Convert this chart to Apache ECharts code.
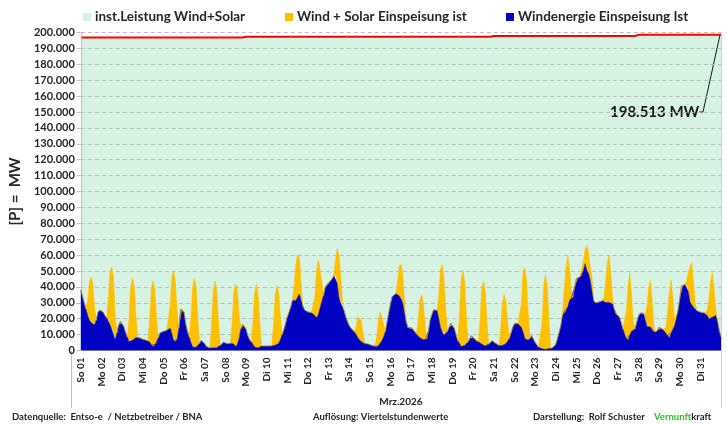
<!DOCTYPE html>
<html><head><meta charset="utf-8">
<script src="https://cdn.jsdelivr.net/npm/echarts@6.0.0/dist/echarts.min.js"></script>
<style>html,body{margin:0;padding:0;background:#fff}#c{width:727px;height:424px}</style>
</head><body><div id="c"></div>
<script>
// ---- data ----
const dayLabels = ['So 01','Mo 02','Di 03','Mi 04','Do 05','Fr 06','Sa 07','So 08','Mo 09','Di 10','Mi 11','Do 12','Fr 13','Sa 14','So 15','Mo 16','Di 17','Mi 18','Do 19','Fr 20','Sa 21','So 22','Mo 23','Di 24','Mi 25','Do 26','Fr 27','Sa 28','So 29','Mo 30','Di 31'];
const hoursOfDay = ['00','02','04','06','08','10','12','14','16','18','20','22'];
// wind feed-in, MW, every 2 hours (12 per day) + end point
const windMW = [
38000,34000,30000,26000,22000,19000,17500,17500,16000,19000,24000,25500,
25500,24000,22000,20500,19500,16000,13000,12000,6500,11000,16000,18300,
17500,15000,11500,8500,5500,6000,6400,7000,8000,8500,8000,7500,
7000,6800,6400,6000,5300,3500,2500,3500,4500,8000,11000,11500,
12000,12300,12700,13500,14000,10000,6000,5500,7000,14000,26000,27000,
24000,16500,12000,8500,5000,2200,1700,2000,3000,4500,6300,5500,
4300,2500,2000,1600,1600,1600,1600,1800,2200,3200,4400,5200,
4800,4300,4300,4500,5000,4000,2300,4000,7400,13700,16500,16000,
13500,9500,7000,5500,3800,2200,1800,1600,2200,2800,2800,2800,
2800,2800,2800,2900,3100,3300,3500,4500,6800,10000,13000,17000,
21000,24000,27400,31500,32500,31500,33500,35500,31500,28000,25500,24800,
24200,24000,23800,23000,22000,20500,22500,26500,30500,34500,39500,41400,
42000,43500,45000,47000,48000,42000,33000,29500,29900,25000,21000,18000,
15500,14000,12800,11700,10000,8000,6500,5300,4800,4300,4300,4200,
3600,3100,3000,2700,2400,2800,4500,6300,8500,12000,18000,24000,
29500,34000,35200,35700,35200,34500,32500,30000,24000,18500,14500,13700,
14300,14000,12000,10300,9000,8200,7400,6600,6700,7200,12000,19000,
22500,25600,25800,25200,20000,14500,11500,9600,10500,12000,14500,17000,
16000,14000,10000,6300,4500,2500,2500,3200,4200,5300,7500,9300,
8200,7000,5800,5500,5300,4000,3000,2900,3300,4000,5000,6200,
5500,4500,3800,3200,3200,3200,3700,4300,5800,7600,11000,14500,
17000,18000,17000,15800,14500,11500,7500,6400,6400,7500,9300,7000,
5000,3500,2000,1500,1100,900,700,900,1200,1400,1500,2500,
4000,7500,11500,16000,22000,24500,25000,27500,31500,33000,33500,40000,
45300,45700,46200,47000,50000,54600,50400,48600,44000,37500,31300,30000,
30200,30400,31000,31300,30200,30200,30500,30200,29800,29200,26000,23000,
22600,21000,17500,13500,10200,7200,6500,9800,12000,13000,13500,17500,
21500,23500,24600,23300,19000,15000,14800,14800,13200,11600,11600,12200,
14600,14200,13400,12200,10800,9400,8200,10800,13300,15400,19500,25000,
32000,40500,41200,41400,41200,37000,30300,28700,27100,26000,25000,24400,
24100,23900,23600,23300,22000,19800,19800,20900,21500,22000,18500,12500,
8500
];
// solar feed-in on top of wind, MW, at 08,10,12,14,16,18 h of each day
const solarDayMW = [
[9400,24200,28500,24200,10800,0],
[13000,33600,39500,33600,15000,0],
[13000,33500,39400,33500,15000,0],
[13600,35000,41200,35000,15700,0],
[14500,37200,43800,37200,16600,0],
[14500,37300,43900,37300,16700,0],
[13900,35800,42100,35800,16000,0],
[13000,33400,39300,33400,14900,0],
[13100,33800,39800,33800,15100,0],
[12400,31900,37500,31900,14300,0],
[8800,22800,26800,22800,10200,0],
[11400,29400,34600,29400,13100,0],
[9000,22000,27000,17000,2000,0],
[5100,13300,15600,13300,5900,0],
[6500,16700,19700,16700,7500,0],
[7200,18400,21700,18400,8200,0],
[9000,23200,27300,23200,10400,0],
[14000,36100,42500,36100,16200,0],
[15800,40700,47900,40700,18200,0],
[13400,34400,40500,34400,15400,0],
[10400,26700,31400,26700,11900,0],
[14700,37900,44600,37900,16900,0],
[15600,40100,47200,40100,17900,0],
[3300,14600,27600,32500,19500,3900],
[6000,8500,15600,13400,8000,9000],
[3000,13400,25200,29700,17800,3600],
[3900,17600,33200,39100,23500,4700],
[2900,13200,24900,29300,17600,3500],
[3300,15000,28300,33300,20000,4000],
[2700,11900,22500,26500,15900,3200],
[2800,12600,23800,28000,16800,3400]
];
// installed capacity wind+solar, MW, per day
const instCapMW = [196900,196900,196900,196900,196900,196900,196900,196900,
197300,197300,197300,197300,197300,197300,197300,197300,197300,197300,197300,197300,
197800,197800,197800,197800,197800,197800,197800,
198513,198513,198513,198513];
const seriesNames = ['inst.Leistung Wind+Solar','Wind + Solar Einspeisung ist','Windenergie Einspeisung Ist'];
const endLabel = '198.513 MW';

// ---- build category series ----
const cats = [], solar = [], cap = [];
dayLabels.forEach((dl, d) => {
  hoursOfDay.forEach((h, k) => {
    cats.push(dl + ' ' + h + ':00');
    solar.push(k >= 4 && k <= 9 ? solarDayMW[d][k - 4] : 0);
    cap.push(instCapMW[d]);
  });
});
cats.push('Mi 01.04 00:00'); solar.push(0); cap.push(instCapMW[instCapMW.length - 1]);

const FF = 'Lato, "Liberation Sans", sans-serif';
const GREEN = '#d6f2e2', ORANGE = '#ffc000', BLUE = '#0000c0';
const chart = echarts.init(document.getElementById('c'), null, {renderer: 'canvas'});
const legendBase = {icon: 'rect', itemWidth: 8, itemHeight: 8, itemGap: 4, top: 5,
  textStyle: {fontFamily: FF, fontWeight: 'bold', fontSize: 13.5, color: '#262626', padding: [0,0,0,-1]}};
chart.setOption({
  animation: false,
  backgroundColor: '#ffffff',
  grid: {left: 71, right: 6, top: 32.5, bottom: 73.5, containLabel: false},
  legend: [
    Object.assign({}, legendBase, {data: [seriesNames[0]], left: 78}),
    Object.assign({}, legendBase, {data: [seriesNames[1]], left: 280}),
    Object.assign({}, legendBase, {data: [seriesNames[2]], left: 501})
  ],
  xAxis: {
    type: 'category', data: cats, boundaryGap: false,
    axisLine: {lineStyle: {color: '#bfbfbf', width: 1}},
    axisTick: {show: false},
    axisLabel: {interval: (i) => i % 12 === 0 && i < 372, rotate: 90, margin: 7,
      formatter: (v) => v.slice(0, 5),
      fontFamily: FF, fontWeight: 'bold', fontSize: 10, color: '#262626'},
    name: 'Mrz.2026', nameLocation: 'middle', nameGap: 46,
    nameTextStyle: {fontFamily: FF, fontWeight: 'bold', fontSize: 10, color: '#262626'}
  },
  yAxis: {
    type: 'value', min: 0, max: 200000, interval: 10000, z: 1,
    axisLine: {show: true, lineStyle: {color: '#bfbfbf'}},
    axisTick: {show: true, length: 4, lineStyle: {color: '#bfbfbf'}},
    splitLine: {show: true, lineStyle: {color: '#bcbcbc', type: [4, 3], width: 1}},
    axisLabel: {formatter: (v) => v === 0 ? '0' : (v / 1000) + '.000', margin: 6,
      fontFamily: FF, fontWeight: 'bold', fontSize: 11, color: '#262626'},
    name: '[P] =  MW', nameLocation: 'middle', nameGap: 57, nameRotate: 90,
    nameTextStyle: {fontFamily: FF, fontWeight: 'bold', fontSize: 15, color: '#262626'}
  },
  series: [
    {name: seriesNames[0], type: 'line', data: cap, z: 0, showSymbol: false, silent: true,
      itemStyle: {color: GREEN}, lineStyle: {color: '#ff0000', width: 2},
      areaStyle: {color: GREEN, opacity: 1}},
    {name: seriesNames[2], type: 'line', data: windMW, stack: 'ws', z: 2, showSymbol: false, silent: true,
      itemStyle: {color: BLUE}, lineStyle: {color: BLUE, width: 0.6},
      areaStyle: {color: BLUE, opacity: 1}},
    {name: seriesNames[1], type: 'line', data: solar, stack: 'ws', z: 2, showSymbol: false, silent: true,
      itemStyle: {color: ORANGE}, lineStyle: {color: ORANGE, width: 0.6},
      areaStyle: {color: ORANGE, opacity: 1}}
  ]
});

// annotation + footer
const endPt = chart.convertToPixel({xAxisIndex: 0, yAxisIndex: 0}, [cats.length - 1, cap[cap.length - 1]]);
const footFont = 'bold 9.5px ' + FF;
chart.setOption({
  graphic: [
    {type: 'line', shape: {x1: 71.5, y1: 351, x2: 71.5, y2: 408}, style: {stroke: '#bfbfbf', lineWidth: 1}, silent: true},
    {type: 'line', shape: {x1: 721.5, y1: 32, x2: 721.5, y2: 408}, style: {stroke: '#d0d0d0', lineWidth: 1}, silent: true},
    {type: 'text', x: 610, y: 112, style: {text: endLabel, font: 'bold 15px ' + FF, fill: '#1a1a1a', verticalAlign: 'middle', align: 'left'}, silent: true},
    {type: 'polyline', shape: {points: [[699, 112], [703, 112], [endPt[0] - 1, endPt[1]]]}, style: {stroke: '#1a1a1a', lineWidth: 1, fill: null}, silent: true},
    {type: 'text', x: 12, y: 417, style: {text: 'Datenquelle:  Entso-e  / Netzbetreiber / BNA', font: footFont, fill: '#262626', verticalAlign: 'middle'}, silent: true},
    {type: 'text', x: 313, y: 417, style: {text: 'Auflösung: Viertelstundenwerte', font: footFont, fill: '#262626', verticalAlign: 'middle'}, silent: true},
    {type: 'text', x: 533, y: 417, style: {text: 'Darstellung:  Rolf Schuster', font: footFont, fill: '#262626', verticalAlign: 'middle'}, silent: true},
    {type: 'text', x: 654, y: 417, style: {text: '{g|Vernunft}{k|kraft}', font: footFont, verticalAlign: 'middle',
      rich: {g: {fill: '#33bb33', font: footFont, fontFamily: FF, fontWeight: 'bold', fontSize: 9.5, color: '#33bb33'},
             k: {fill: '#262626', font: footFont, fontFamily: FF, fontWeight: 'bold', fontSize: 9.5, color: '#262626'}}}, silent: true}
  ]
});
</script></body></html>
